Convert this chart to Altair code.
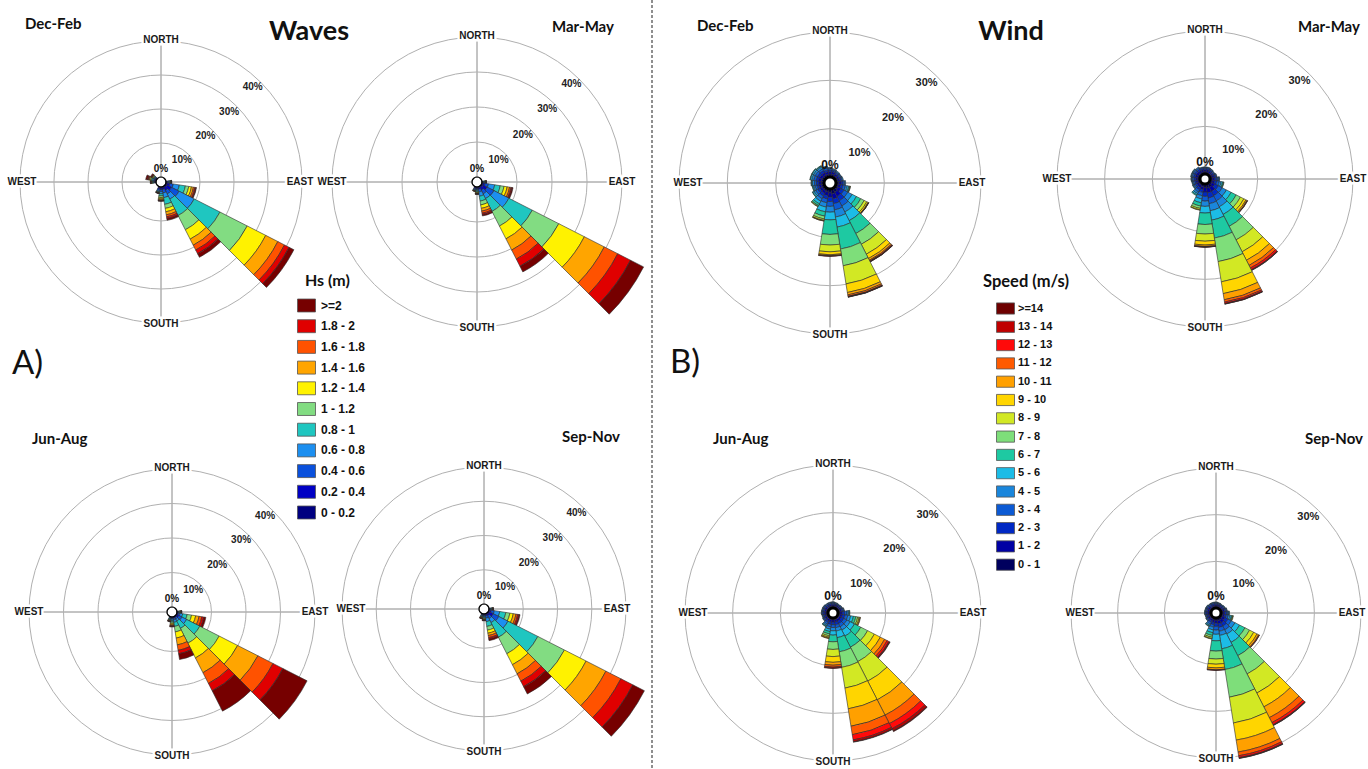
import math
import altair as alt
import pandas as pd

# ---------------------------------------------------------------------------
# Frequency tables (% of time) per 18-degree direction bin (bins centred on
# multiples of 18 deg, measured clockwise from north). Each list holds the
# share of every class, starting from the lowest class.
# ---------------------------------------------------------------------------
SECTOR = 18

WAVE_CLASSES = ["0 - 0.2", "0.2 - 0.4", "0.4 - 0.6", "0.6 - 0.8", "0.8 - 1", "1 - 1.2",
                "1.2 - 1.4", "1.4 - 1.6", "1.6 - 1.8", "1.8 - 2", ">=2"]
WAVE_COLORS = ["#000080", "#0000c4", "#0a50dc", "#1c8ff0", "#1fc6c0", "#82dc82",
               "#fff200", "#ffa500", "#ff5200", "#e00000", "#760000"]

WIND_CLASSES = ["0 - 1", "1 - 2", "2 - 3", "3 - 4", "4 - 5", "5 - 6", "6 - 7", "7 - 8",
                "8 - 9", "9 - 10", "10 - 11", "11 - 12", "12 - 13", "13 - 14", ">=14"]
WIND_COLORS = ["#00005e", "#0000a4", "#0028c4", "#0c5ad4", "#1a86dc", "#1cbce6", "#1ec9a2",
               "#7ede7a", "#d2e824", "#ffd500", "#ffa000", "#ff5a00", "#ff0a0a", "#c00000",
               "#6e0000"]

WAVES_DJF = {
    90: [0.2, 0.3, 0.3, 0.3, 0.2, 0.1, 0.1, 0.05, 0.05, 0.05, 0.05],
    108: [0.4, 0.8, 1.0, 1.8, 1.8, 1.0, 0.8, 0.6, 0.4, 0.3, 0.2],
    126: [0.5, 1.5, 2.5, 5.0, 8.5, 9.0, 6.1, 4.0, 2.2, 1.5, 1.6],
    144: [0.3, 1.0, 1.2, 1.7, 5.4, 4.7, 3.1, 2.0, 1.6, 1.2, 1.2],
    162: [0.3, 0.5, 1.0, 1.4, 2.0, 1.2, 1.0, 0.9, 0.6, 0.5, 0.5],
    180: [0.3, 0.5, 0.6, 0.6, 0.6, 0.5, 0.4, 0.3, 0.2, 0.1, 0.1],
    198: [0.3, 0.4, 0.4, 0.3, 0.2, 0.1, 0.1, 0.05, 0.05, 0.05, 0.05],
    270: [0.2, 0.2, 0.2, 0.2, 0.2, 0.2, 0.1, 0.1, 0.1, 0.1, 0.1],
    288: [0.2, 0.3, 0.3, 0.3, 0.3, 0.3, 0.3, 0.2, 0.2, 0.2, 0.5],
    306: [0.2, 0.2, 0.2, 0.2, 0.2, 0.2, 0.2, 0.1, 0.1, 0.1, 0.3],
}
WAVES_MAM = {
    90: [0.1, 0.2, 0.2, 0.2, 0.2, 0.1, 0.1, 0.05, 0.05, 0.05, 0.05],
    108: [0.3, 0.6, 1.0, 1.8, 1.6, 1.1, 0.9, 0.7, 0.4, 0.3, 0.3],
    126: [0.5, 1.3, 2.2, 4.8, 7.5, 8.5, 8.2, 6.4, 4.3, 4.1, 4.2],
    144: [0.3, 0.9, 1.2, 1.5, 4.1, 4.7, 4.1, 3.6, 2.9, 2.3, 1.8],
    162: [0.2, 0.5, 0.8, 1.2, 1.4, 1.1, 1.0, 0.8, 0.6, 0.4, 0.4],
    180: [0.2, 0.3, 0.3, 0.3, 0.3, 0.2, 0.2, 0.1, 0.1, 0.05, 0.05],
    198: [0.2, 0.3, 0.3, 0.2, 0.1, 0.1, 0.05, 0.05, 0.05],
}
WAVES_JJA = {
    90: [0.1, 0.1, 0.2, 0.2, 0.2, 0.2, 0.1, 0.1, 0.1, 0.05, 0.05],
    108: [0.1, 0.3, 0.5, 0.8, 1.3, 1.3, 1.2, 1.0, 0.8, 0.6, 0.6],
    126: [0.2, 0.6, 1.0, 1.5, 4.3, 6.3, 6.0, 6.6, 4.9, 3.2, 7.9],
    144: [0.1, 0.3, 0.5, 0.6, 2.4, 4.8, 4.8, 4.8, 3.5, 2.4, 6.6],
    162: [0.1, 0.3, 0.5, 0.7, 1.2, 1.6, 1.8, 2.0, 1.6, 1.0, 1.7],
    180: [0.1, 0.2, 0.3, 0.4, 0.4, 0.4, 0.3, 0.3, 0.2, 0.1, 0.2],
    198: [0.1, 0.2, 0.2, 0.2, 0.2, 0.1, 0.1, 0.1, 0.1, 0.1, 0.1],
}
WAVES_SON = {
    90: [0.1, 0.2, 0.2, 0.2, 0.2, 0.1, 0.1, 0.05, 0.05, 0.05, 0.05],
    108: [0.2, 0.5, 0.9, 1.6, 1.8, 1.2, 1.0, 0.8, 0.5, 0.4, 0.3],
    126: [0.4, 1.2, 1.8, 3.0, 9.8, 8.7, 7.1, 6.5, 4.9, 3.9, 3.8],
    144: [0.2, 0.6, 0.9, 1.3, 4.8, 5.4, 3.6, 3.0, 2.4, 1.8, 2.4],
    162: [0.2, 0.4, 0.7, 1.0, 1.4, 1.1, 0.9, 0.7, 0.6, 0.4, 0.5],
    180: [0.1, 0.2, 0.3, 0.3, 0.3, 0.2, 0.2, 0.1, 0.1, 0.1, 0.1],
    198: [0.1, 0.2, 0.2, 0.2, 0.2, 0.1, 0.1, 0.1, 0.1, 0.1, 0.1],
}

WIND_DJF = {
    0: [0.6, 0.5, 0.4, 0.3, 0.2],
    18: [0.6, 0.5, 0.3, 0.2, 0.2],
    36: [0.5, 0.4, 0.3, 0.2, 0.2],
    54: [0.5, 0.4, 0.3, 0.2, 0.1],
    72: [0.5, 0.4, 0.3, 0.2, 0.2],
    90: [0.6, 0.5, 0.4, 0.3, 0.2],
    108: [0.5, 0.5, 0.5, 0.5, 0.4, 0.3, 0.2, 0.1, 0.05],
    126: [0.6, 0.7, 0.7, 0.9, 1.0, 1.0, 1.0, 0.8, 0.6, 0.3, 0.1, 0.05, 0.02],
    144: [0.9, 1.0, 1.0, 1.2, 1.4, 2.0, 3.0, 2.5, 2.3, 1.0, 0.4, 0.2, 0.1, 0.05, 0.05],
    162: [1.0, 1.1, 1.0, 1.3, 1.5, 2.1, 4.6, 3.5, 3.8, 1.8, 0.5, 0.3, 0.1, 0.05, 0.05],
    180: [0.8, 0.9, 0.9, 1.0, 1.2, 1.6, 3.0, 2.2, 1.4, 0.6, 0.2, 0.1, 0.05],
    198: [0.7, 0.7, 0.7, 0.8, 0.9, 1.0, 0.9, 0.6, 0.3, 0.1, 0.05],
    216: [0.6, 0.6, 0.6, 0.6, 0.6, 0.6, 0.4, 0.2, 0.1],
    234: [0.6, 0.5, 0.5, 0.5, 0.4, 0.3, 0.1],
    252: [0.6, 0.5, 0.4, 0.4, 0.3, 0.2, 0.1],
    270: [0.6, 0.5, 0.5, 0.4, 0.4, 0.2, 0.1],
    288: [0.6, 0.6, 0.5, 0.5, 0.4, 0.3, 0.1],
    306: [0.6, 0.6, 0.5, 0.5, 0.4, 0.3, 0.1],
    324: [0.6, 0.6, 0.5, 0.4, 0.4, 0.2, 0.1],
    342: [0.6, 0.5, 0.4, 0.4, 0.3, 0.1],
}
WIND_MAM = {
    0: [0.5, 0.4, 0.3, 0.2, 0.1],
    18: [0.5, 0.4, 0.3, 0.2, 0.1],
    36: [0.4, 0.4, 0.3, 0.2, 0.1],
    54: [0.4, 0.3, 0.3, 0.2, 0.1],
    72: [0.5, 0.4, 0.3, 0.2, 0.1],
    90: [0.5, 0.5, 0.4, 0.3, 0.2, 0.1],
    108: [0.5, 0.5, 0.5, 0.5, 0.4, 0.3, 0.2, 0.1],
    126: [0.6, 0.7, 0.8, 0.9, 1.0, 1.1, 1.2, 1.0, 0.8, 0.5, 0.25, 0.1, 0.05],
    144: [0.9, 1.0, 1.0, 1.2, 1.4, 1.8, 2.8, 3.2, 2.8, 2.0, 1.2, 0.6, 0.4, 0.15, 0.05],
    162: [0.9, 1.0, 1.1, 1.2, 1.5, 2.0, 3.8, 5.0, 4.3, 2.5, 1.3, 0.5, 0.3, 0.1, 0.05],
    180: [0.8, 0.9, 0.9, 1.0, 1.1, 1.4, 2.4, 2.0, 1.5, 0.8, 0.3, 0.1, 0.05, 0.02],
    198: [0.6, 0.6, 0.6, 0.7, 0.7, 0.8, 0.7, 0.5, 0.3, 0.1],
    216: [0.5, 0.5, 0.5, 0.5, 0.4, 0.3, 0.2],
    234: [0.5, 0.4, 0.4, 0.3, 0.2, 0.1],
    252: [0.5, 0.4, 0.3, 0.3, 0.2, 0.1],
    270: [0.5, 0.4, 0.4, 0.3, 0.2, 0.1],
    288: [0.5, 0.5, 0.4, 0.3, 0.2, 0.1],
    306: [0.5, 0.5, 0.4, 0.3, 0.2, 0.1],
    324: [0.5, 0.4, 0.4, 0.3, 0.2],
    342: [0.5, 0.4, 0.3, 0.2, 0.1],
}
WIND_JJA = {
    0: [0.4, 0.3, 0.3, 0.2, 0.1],
    18: [0.4, 0.3, 0.2, 0.2, 0.1],
    36: [0.4, 0.3, 0.2, 0.1, 0.1],
    54: [0.4, 0.3, 0.2, 0.2, 0.1],
    72: [0.4, 0.4, 0.3, 0.2, 0.1],
    90: [0.4, 0.5, 0.5, 0.5, 0.3, 0.2, 0.1],
    108: [0.4, 0.5, 0.6, 0.6, 0.6, 0.6, 0.5, 0.4, 0.3, 0.2, 0.1],
    126: [0.4, 0.5, 0.6, 0.7, 0.8, 1.0, 1.5, 1.6, 1.6, 1.4, 1.0, 0.6, 0.4, 0.2, 0.1],
    144: [0.4, 0.5, 0.6, 0.7, 0.8, 1.4, 2.6, 3.4, 4.6, 4.4, 3.6, 2.0, 1.2, 0.5, 0.2],
    162: [0.4, 0.5, 0.6, 0.6, 0.7, 1.4, 3.0, 3.3, 4.4, 4.4, 3.7, 1.8, 1.1, 0.4, 0.1],
    180: [0.4, 0.5, 0.5, 0.6, 0.7, 0.9, 1.4, 1.6, 1.5, 1.2, 0.6, 0.4, 0.2, 0.1],
    198: [0.4, 0.5, 0.5, 0.5, 0.5, 0.5, 0.5, 0.4, 0.3, 0.2, 0.1],
    216: [0.4, 0.4, 0.4, 0.4, 0.3, 0.2, 0.1],
    234: [0.4, 0.4, 0.3, 0.2, 0.1],
    252: [0.4, 0.3, 0.3, 0.2, 0.1],
    270: [0.4, 0.4, 0.3, 0.2, 0.1],
    288: [0.4, 0.4, 0.3, 0.2, 0.1],
    306: [0.4, 0.4, 0.3, 0.2, 0.1],
    324: [0.4, 0.3, 0.3, 0.2, 0.1],
    342: [0.4, 0.3, 0.3, 0.2, 0.1],
}
WIND_SON = {
    0: [0.4, 0.3, 0.3, 0.2, 0.1],
    18: [0.4, 0.3, 0.2, 0.2, 0.1],
    36: [0.4, 0.3, 0.2, 0.1, 0.1],
    54: [0.4, 0.3, 0.2, 0.2, 0.1],
    72: [0.4, 0.4, 0.3, 0.2, 0.1],
    90: [0.4, 0.4, 0.4, 0.3, 0.2, 0.1],
    108: [0.4, 0.4, 0.4, 0.4, 0.4, 0.3, 0.2, 0.1, 0.1],
    126: [0.5, 0.6, 0.7, 0.8, 0.9, 1.1, 1.3, 1.1, 1.0, 0.8, 0.4, 0.15, 0.05],
    144: [0.6, 0.7, 0.8, 0.9, 1.0, 2.0, 3.2, 4.4, 4.6, 3.3, 2.6, 1.2, 0.5, 0.15, 0.05],
    162: [0.6, 0.7, 0.8, 0.8, 0.9, 2.9, 4.5, 6.0, 5.6, 3.7, 2.6, 0.8, 0.4, 0.15, 0.05],
    180: [0.5, 0.6, 0.7, 0.8, 0.9, 1.4, 2.2, 1.7, 1.1, 0.8, 0.4, 0.1, 0.05],
    198: [0.5, 0.5, 0.5, 0.5, 0.6, 0.6, 0.6, 0.4, 0.3, 0.1],
    216: [0.4, 0.4, 0.4, 0.4, 0.3, 0.2, 0.1],
    234: [0.4, 0.4, 0.3, 0.2, 0.1],
    252: [0.4, 0.3, 0.3, 0.2, 0.1],
    270: [0.4, 0.4, 0.3, 0.2, 0.1],
    288: [0.4, 0.4, 0.3, 0.2, 0.1],
    306: [0.4, 0.4, 0.3, 0.2, 0.1],
    324: [0.4, 0.3, 0.3, 0.2, 0.1],
    342: [0.4, 0.3, 0.3, 0.2, 0.1],
}

WAVE_RINGS = [10, 20, 30, 40]
WIND_RINGS = [10, 20, 30]
NS_LABELS, NS_DEG = ["NORTH", "SOUTH"], [0, 180]
EW_LABELS, EW_DEG = ["EAST", "WEST"], [90, 270]

# ---------------------------------------------------------------------------
# Page layout: rose centre, radius range in pixels, season caption spot and
# the inward shift of the EAST / WEST labels
# ---------------------------------------------------------------------------
W, H = 1368, 769
WAVE_PANELS = [
    ("Dec-Feb", WAVES_DJF, (161, 182), (5, 141), (25, 24), -2),
    ("Mar-May", WAVES_MAM, (477, 182), (5, 145), (552, 27), 0),
    ("Jun-Aug", WAVES_JJA, (172, 612), (5, 143), (32, 439), 0),
    ("Sep-Nov", WAVES_SON, (484, 609), (5, 142), (562, 437), -9),
]
WIND_PANELS = [
    ("Dec-Feb", WIND_DJF, (830, 183), (6, 151), (697, 26), -9),
    ("Mar-May", WIND_MAM, (1205, 179), (5, 148), (1298, 27), 0),
    ("Jun-Aug", WIND_JJA, (833, 613), (5, 148), (713, 439), -8),
    ("Sep-Nov", WIND_SON, (1216, 613), (5, 145), (1305, 439), -9),
]

SANS = "Liberation Sans"
CAPTION = "Lato"
GRID = "#b0b0b0"
TAU = 2 * math.pi
THETA_SCALE = alt.Scale(type="linear", domain=[0, 360], range=[0, TAU], zero=False, nice=False)


def sectors(freq, classes):
    rows = []
    for d, vals in freq.items():
        cum = 0.0
        for k, v in enumerate(vals):
            if v > 0:
                rows.append({"t0": d - SECTOR / 2, "t1": d + SECTOR / 2,
                             "r0": cum, "r1": cum + v, "cls": classes[k]})
            cum += v
    return pd.DataFrame(rows)


def rose(freq, classes, colors, center, r_range, rings, style, legend, ew_off):
    cx, cy = center
    X, Y = alt.value(cx), alt.value(cy)
    top = rings[-1]
    rs = alt.Scale(type="linear", domain=[0, top], range=list(r_range),
                   zero=False, nice=False)

    def R(f):
        return alt.Radius(f, scale=rs, stack=None)

    def T(f):
        return alt.Theta(f, scale=THETA_SCALE, stack=None)

    layers = []
    # concentric percentage rings
    layers.append(
        alt.Chart(pd.DataFrame({"p": rings}))
        .mark_arc(filled=False, stroke=GRID, strokeWidth=1, theta=0, theta2=TAU)
        .encode(radius=R("p:Q"), x=X, y=Y)
    )
    # N-E-S-W spokes
    layers.append(
        alt.Chart(pd.DataFrame({"d": NS_DEG + EW_DEG, "p": [top] * 4}))
        .mark_arc(filled=False, stroke=GRID, strokeWidth=1)
        .encode(theta=T("d:Q"), theta2="d:Q", radius=R("p:Q"), x=X, y=Y)
    )
    # stacked sectors
    cscale = alt.Scale(domain=classes[::-1], range=colors[::-1])
    layers.append(
        alt.Chart(sectors(freq, classes))
        .mark_arc(stroke="#2a2a2a", strokeWidth=0.6)
        .encode(theta=T("t0:Q"), theta2="t1:Q", radius=R("r1:Q"), radius2="r0:Q",
                color=alt.Color("cls:N", scale=cscale, legend=legend), x=X, y=Y)
    )
    # calm hole in the middle
    layers.append(
        alt.Chart(pd.DataFrame({"p": [0]}))
        .mark_arc(fill="white", stroke="black", strokeWidth=style["hole"], theta=0, theta2=TAU)
        .encode(radius=R("p:Q"), x=X, y=Y)
    )
    # compass labels with a white halo that cuts the ring
    for labels, degs, off in ((NS_LABELS, NS_DEG, 1), (EW_LABELS, EW_DEG, ew_off)):
        lab = pd.DataFrame({"lab": labels, "d": degs, "p": [top] * 2})
        for halo in (True, False):
            kw = dict(font=SANS, fontSize=10, fontWeight="bold", align="center",
                      baseline="middle", radiusOffset=off)
            if halo:
                kw.update(color="white", stroke="white", strokeWidth=5)
            else:
                kw.update(color="#1a1a1a")
            layers.append(
                alt.Chart(lab).mark_text(**kw)
                .encode(theta=T("d:Q"), radius=R("p:Q"), text="lab:N", x=X, y=Y)
            )
    # ring percentages
    layers.append(
        alt.Chart(pd.DataFrame({"p": rings, "lab": [f"{p}%" for p in rings]}))
        .mark_text(font=SANS, fontSize=style["pct_size"], fontWeight="bold", color="#222",
                   align="center", baseline="middle", radiusOffset=style["pct_off"])
        .encode(theta=alt.value(math.radians(44)), radius=R("p:Q"), text="lab:N", x=X, y=Y)
    )
    layers.append(
        alt.Chart(pd.DataFrame({"p": [0], "lab": ["0%"]}))
        .mark_text(font=SANS, fontSize=style["zero_size"], fontWeight="bold",
                   color="#111", align="center", baseline="middle",
                   radiusOffset=style["zero_off"])
        .encode(theta=alt.value(0), radius=R("p:Q"), text="lab:N", x=X, y=Y)
    )
    return layers


def caption(text, x, y, size, weight="bold", font=CAPTION, align="left"):
    return (
        alt.Chart(pd.DataFrame({"t": [text]}))
        .mark_text(font=font, fontSize=size, fontWeight=weight, color="#111",
                   align=align, baseline="middle")
        .encode(text="t:N", x=alt.value(x), y=alt.value(y))
    )


WAVE_STYLE = dict(hole=1.2, pct_size=10, pct_off=-9, zero_size=10, zero_off=8)
WIND_STYLE = dict(hole=3, pct_size=11, pct_off=-12, zero_size=12, zero_off=12)


def legend(x, y, font_size, row_pad, label_offset, shape):
    return alt.Legend(orient="none", legendX=x, legendY=y, title=None, padding=0,
                      symbolType=shape, symbolSize=324, symbolStrokeColor="#555",
                      symbolStrokeWidth=0.8, symbolOpacity=1, labelFont=SANS,
                      labelFontSize=font_size, labelFontWeight="bold", labelColor="#111",
                      rowPadding=row_pad, labelOffset=label_offset)


layers = []
for i, (season, freq, center, rr, (tx, ty), ew) in enumerate(WAVE_PANELS):
    lg = legend(297, 296, 12, 2.7, 5, "M-1,-0.72H1V0.72H-1Z") if i == 0 else None
    layers += rose(freq, WAVE_CLASSES, WAVE_COLORS, center, rr, WAVE_RINGS, WAVE_STYLE, lg, ew)
    layers.append(caption(season, tx, ty, 15))
for i, (season, freq, center, rr, (tx, ty), ew) in enumerate(WIND_PANELS):
    lg = legend(996, 299, 11, 1.3, 3, "M-1,-0.62H1V0.62H-1Z") if i == 0 else None
    layers += rose(freq, WIND_CLASSES, WIND_COLORS, center, rr, WIND_RINGS, WIND_STYLE, lg, ew)
    layers.append(caption(season, tx, ty, 15))

layers += [
    caption("Waves", 309, 32, 27, align="center"),
    caption("Wind", 1011, 32, 27, align="center"),
    caption("A)", 12, 364, 33, weight="normal"),
    caption("B)", 670, 363, 33, weight="normal"),
    caption("Hs (m)", 305, 281, 16),
    caption("Speed (m/s)", 983, 282, 16.5),
    alt.Chart(pd.DataFrame({"x": [0]}))
    .mark_rule(color="#444", strokeDash=[3, 2], strokeWidth=1.2)
    .encode(x=alt.value(652), y=alt.value(0), y2=alt.value(H)),
]

chart = (
    alt.layer(*layers)
    .resolve_scale(radius="independent", color="independent", theta="independent")
    .properties(width=W, height=H, padding=0, background="white",
                autosize=alt.AutoSizeParams(type="none"))
    .configure_view(stroke=None)
)

chart.save("out.html", embed_options={"renderer": "svg", "actions": False})
